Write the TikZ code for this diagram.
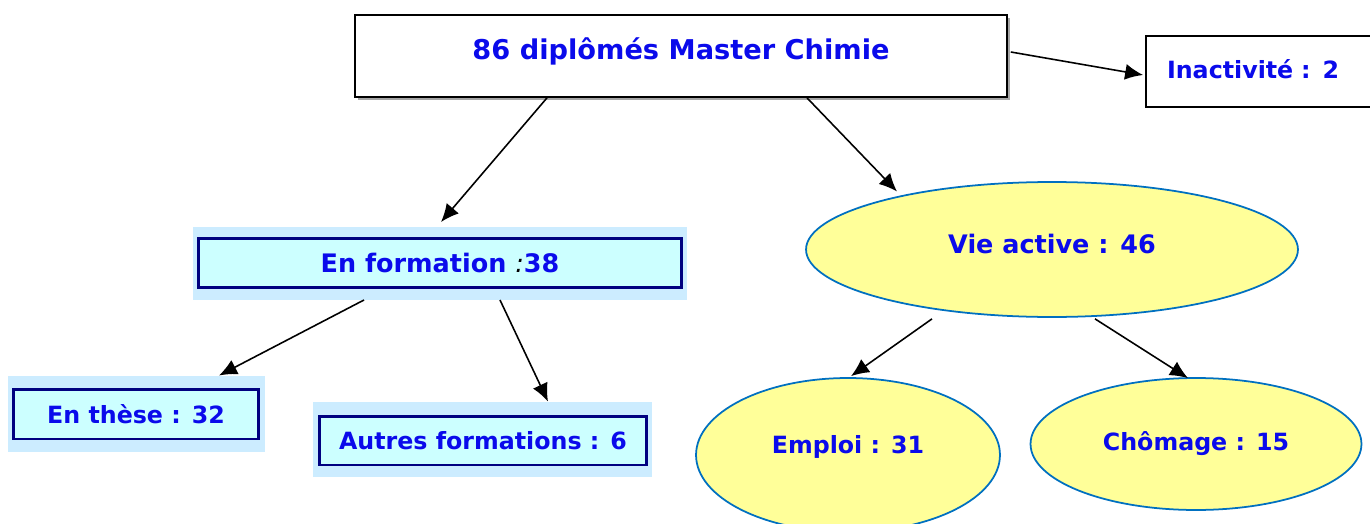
\documentclass[tikz,border=0pt]{standalone}
\usepackage{fontspec}
\setmainfont{DejaVu Sans}
\usetikzlibrary{arrows.meta,calc,backgrounds,shapes.geometric}
\definecolor{txtblue}{RGB}{10,10,235}
\definecolor{navy}{RGB}{0,0,128}
\definecolor{boxcyan}{RGB}{204,255,255}
\definecolor{halo}{RGB}{204,236,255}
\definecolor{ovalfill}{RGB}{255,255,153}
\definecolor{ovalline}{RGB}{0,112,192}
\begin{document}
\begin{tikzpicture}[x=0.02cm,y=-0.02cm,
	lbl/.style={font=\bfseries\fontsize{13.5}{16}\selectfont,text=txtblue},
	whitebox/.style={draw,line width=1pt,fill=white,lbl,inner sep=0pt},
	formbox/.style={draw=navy,line width=1.7pt,fill=boxcyan,lbl,inner sep=0pt},
	oval/.style={ellipse,draw=ovalline,line width=1pt,fill=ovalfill,lbl,inner sep=0pt},
	arr/.style={-{Latex[length=0.36cm,width=0.32cm]},line width=0.9pt}]
		\clip (0,0) rectangle (1370,524);
		% top of the tree
		\fill[gray!70] (358,18) rectangle (1010,100);
		\node[whitebox,minimum width=13.04cm,minimum height=1.64cm,font=\bfseries\fontsize{15.5}{19}\selectfont] (top) at (681,56) {\raisebox{0.3cm}{86 diplômés Master Chimie}};
		\node[whitebox,minimum width=4.6cm,minimum height=1.42cm,text width=3.76cm,align=left,inner xsep=0.42cm] (inact) at (1261,71.5) {\raisebox{0.08cm}{Inactivité : 2}};
		% formation branch
		\node[formbox,minimum width=9.66cm,minimum height=0.98cm,font=\bfseries\fontsize{14.5}{18}\selectfont] (form) at (440,263) {En formation {\color{black}\mdseries\itshape:}38};
		\node[formbox,minimum width=4.9cm,minimum height=1cm] (these) at (136,414) {En thèse : 32};
		\node[formbox,minimum width=6.54cm,minimum height=0.98cm] (autres) at (483,440.5) {Autres formations : 6};
		\begin{scope}[on background layer]
			\fill[halo] (193,227) rectangle (687,300);
			\fill[halo] (8,376) rectangle (265,452);
			\fill[halo] (313,402) rectangle (652,477);
		\end{scope}
		% vie active branch
		\node[oval,minimum width=9.84cm,minimum height=2.7cm,font=\bfseries\fontsize{14.5}{18}\selectfont] (vie) at (1052,249.5) {\raisebox{0.22cm}{Vie active : 46}};
		\node[oval,minimum width=6.08cm,minimum height=3.08cm] (emploi) at (848,455) {\raisebox{0.42cm}{Emploi : 31}};
		\node[oval,minimum width=6.62cm,minimum height=2.64cm] (chom) at (1196,444) {Chômage : 15};
		% arrows
		\draw[arr] ($(top.east)+(3,-4)$) -- ($(inact.west)+(-2,3.5)$);
		\draw[arr] ($(top.south)+(-134,0)$) -- ($(form.north)+(1,-15)$);
		\draw[arr] ($(top.south)+(126,0)$) -- ($(vie.center)+(-155,-58)$);
		\draw[arr] ($(form.south)+(-76,11)$) -- ($(these.north)+(83,-12)$);
		\draw[arr] ($(form.south)+(60,11)$) -- ($(autres.north)+(65,-13)$);
		\draw[arr] ($(vie.south)+(-120,1)$) -- ($(emploi.north)+(3,-1)$);
		\draw[arr] ($(vie.south)+(43,1)$) -- ($(chom.north)+(-8,1)$);
\end{tikzpicture}
\end{document}
